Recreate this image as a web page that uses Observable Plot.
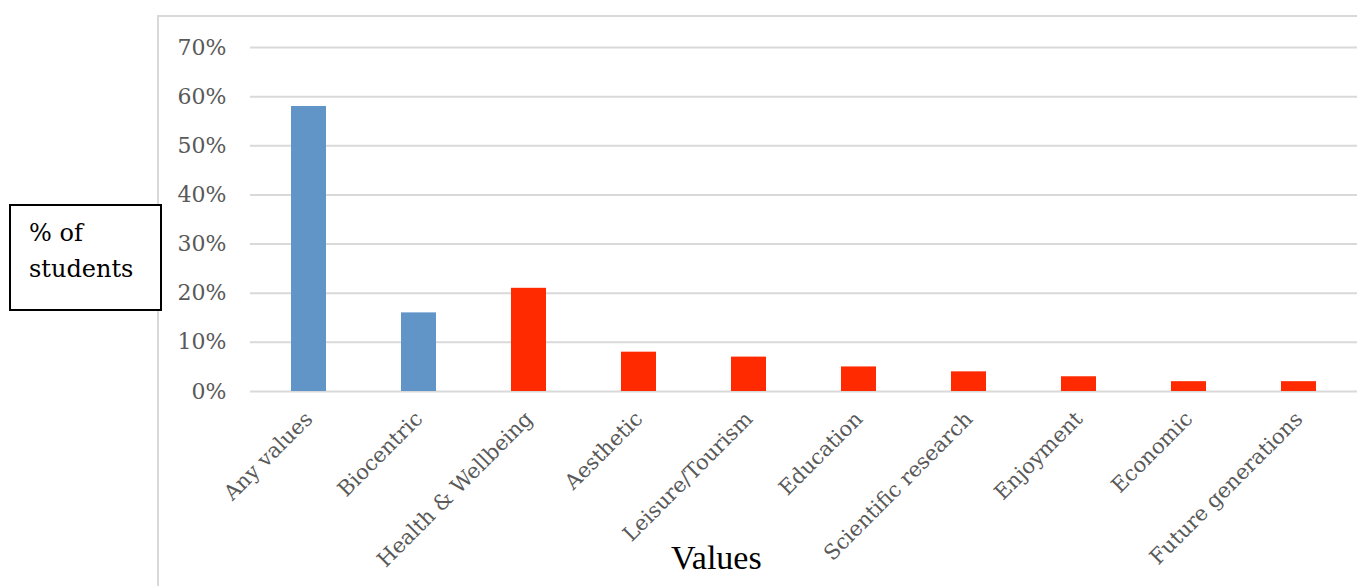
<!DOCTYPE html>
<html><head><meta charset="utf-8">
<script src="https://cdn.jsdelivr.net/npm/d3@7"></script>
<script src="https://cdn.jsdelivr.net/npm/@observablehq/plot@0.6"></script>
<style>
body{margin:0;background:#fff;}
#wrap{position:relative;width:1357px;height:586px;overflow:hidden;background:#fff;}
#wrap svg{position:absolute;left:0;top:0;}
#frame{position:absolute;left:157px;top:15px;width:1300px;height:700px;border-left:2px solid #d9d9d9;border-top:2px solid #d9d9d9;}
#ylab{position:absolute;left:9px;top:204px;width:131px;height:103px;padding-left:18px;border:2px solid #000;background:#fff;font-family:"DejaVu Serif";font-size:24px;line-height:36px;color:#000;box-sizing:content-box;}
#ylab div:first-child{margin-top:9px;}
#xlab{position:absolute;left:671px;top:538px;font-family:"Liberation Serif";font-size:34px;line-height:40px;color:#000;white-space:nowrap;}
</style></head>
<body>
<div id="wrap">
<div id="frame"></div>
<div id="chart"></div>
<div id="ylab"><div>% of</div><div>students</div></div>
<div id="xlab">Values</div>
</div>
<script>
const categories = ["Any values","Biocentric","Health & Wellbeing","Aesthetic","Leisure/Tourism","Education","Scientific research","Enjoyment","Economic","Future generations"];
const values = [0.58,0.16,0.21,0.08,0.07,0.05,0.04,0.03,0.02,0.02];
const groups = ["Overall","Overall","Specific","Specific","Specific","Specific","Specific","Specific","Specific","Specific"];
const yTicks = [0,0.1,0.2,0.3,0.4,0.5,0.6,0.7];

const data = categories.map((c,i)=>({category:c, value:values[i], group:groups[i]}));

const plot = Plot.plot({
  width:1357, height:586,
  marginLeft:250, marginRight:0, marginTop:47, marginBottom:195,
  style:{fontFamily:"DejaVu Serif", fontSize:"22px", color:"#595959", background:"transparent"},
  x:{type:"band", domain:categories, paddingInner:0.68, paddingOuter:0.34},
  y:{domain:[0,0.7]},
  color:{domain:["Overall","Specific"], range:["#6195c8","#ff2a00"]},
  marks:[
    Plot.ruleY(yTicks,{stroke:"#d9d9d9", strokeWidth:2}),
    Plot.barY(data,{x:"category", y:"value", fill:"group"}),
    Plot.axisY({ticks:yTicks, tickFormat:d3.format(".0%"), tickSize:0, tickPadding:24, label:null, fontSize:22}),
    Plot.axisX({tickRotate:-45, tickSize:0, tickPadding:24, label:null, fontSize:21})
  ]
});
document.getElementById("chart").appendChild(plot);
</script>
</body></html>
